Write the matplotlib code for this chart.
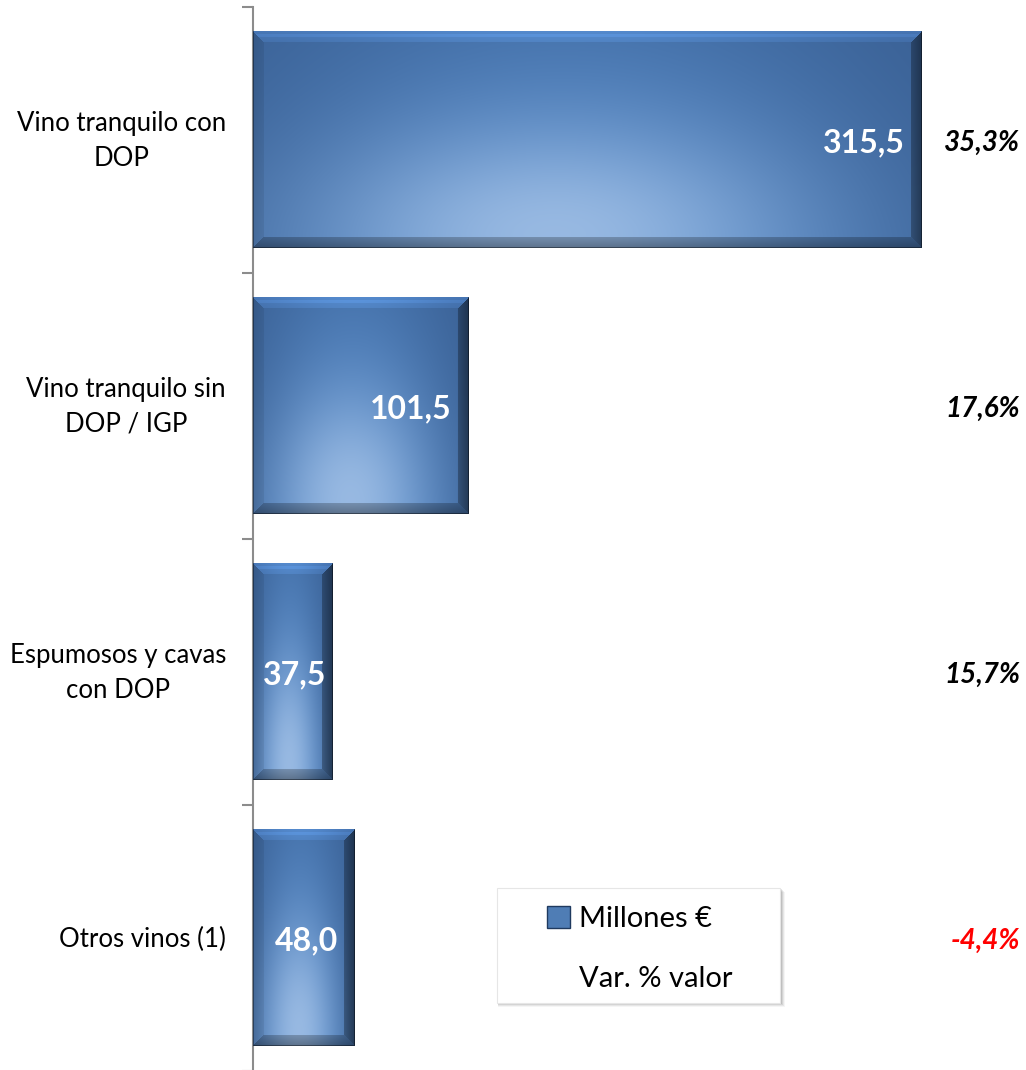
import numpy as np
import matplotlib
matplotlib.use("Agg")
import matplotlib.pyplot as plt
from matplotlib.patches import Rectangle, Patch
from matplotlib.lines import Line2D
from matplotlib.transforms import blended_transform_factory

# ---------------- data ----------------
categories = ["Vino tranquilo con\nDOP", "Vino tranquilo sin\nDOP / IGP",
              "Espumosos y cavas\ncon DOP", "Otros vinos (1)"]
millones = [315.5, 101.5, 37.5, 48.0]
var_pct = [35.3, 17.6, 15.7, -4.4]
legend_labels = ["Millones €", "Var. % valor"]

FONT = ["Lato", "DejaVu Sans"]
plt.rcParams["font.family"] = FONT

W_PX, H_PX, DPI = 1026, 1070, 100
fig = plt.figure(figsize=(W_PX / DPI, H_PX / DPI), dpi=DPI)
fig.patch.set_facecolor("white")

ax_left, ax_top, ax_bot = 253, 7, 1071
px_per_unit = 2.12
ax = fig.add_axes([ax_left / W_PX, (H_PX - ax_bot) / H_PX,
                   (W_PX - ax_left) / W_PX, (ax_bot - ax_top) / H_PX])
ax.set_xlim(0, (W_PX - ax_left) / px_per_unit)
ax.set_ylim(len(categories) - 0.5, -0.5)
ax.patch.set_alpha(0)

bar_h = 0.815
ypos = np.arange(len(categories))
bars = ax.barh(ypos, millones, height=bar_h, color="#4a78b0", edgecolor="none", zorder=2)

band_px = (ax_bot - ax_top) / len(categories)


def bar_image(wpx, hpx, b=11):
    W = max(int(round(wpx)), 4)
    H = max(int(round(hpx)), 4)
    yy, xx = np.mgrid[0:H, 0:W].astype(float) + 0.5
    base = np.array([54, 90, 140], float)
    mid = np.array([86, 141, 206], float)
    light = np.array([166, 195, 231], float)
    g1 = np.exp(-((xx - 0.47 * W) / (0.5 * W)) ** 2) * (0.5 + 0.5 * yy / H)
    g2 = np.exp(-((xx - 0.45 * W) / (0.33 * W)) ** 2 - ((yy - 0.93 * H) / (0.48 * H)) ** 2)
    img = base[None, None, :] + g1[..., None] * (mid - base)
    img = img + 0.82 * g2[..., None] * (light - img)
    # bevel frame
    dt, db, dl, dr = yy, H - yy, xx, W - xx
    d = np.stack([dt, db, dl, dr])
    idx = np.argmin(d, axis=0)
    m = np.min(d, axis=0)
    inb = m < b
    factors = np.array([1.18, 0.62, 0.88, 0.52])
    f = factors[idx]
    fade = 1 - 0.4 * (m / b)
    ff = np.where(inb, 1 + (f - 1) * fade, 1.0)
    img = img * ff[..., None]
    # thin light line inside top bevel
    topline = (dt > 3) & (dt < 6) & (dt <= dl) & (dt <= dr)
    img[topline] = img[topline] * 1.08
    # thin dark outline
    edge = (db < 1.5) | (dr < 1.5) | (dl < 1.2)
    img[edge] = img[edge] * 0.6
    img = np.clip(img, 0, 255) / 255.0
    return img


for rect, v, y in zip(bars, millones, ypos):
    im = bar_image(v * px_per_unit, bar_h * band_px)
    ax.imshow(im, extent=(0, v, y + bar_h / 2, y - bar_h / 2), aspect="auto",
              interpolation="bilinear", zorder=3, clip_path=rect, clip_on=True)

# value labels
for v, y in zip(millones, ypos):
    txt = f"{v:.1f}".replace(".", ",")
    if v * px_per_unit > 100:
        ax.annotate(txt, xy=(v, y), xytext=(-17, -3), textcoords="offset pixels",
                    ha="right", va="center", color="white", fontsize=23,
                    fontweight="bold", zorder=5)
    else:
        ax.annotate(txt, xy=(v / 2, y), xytext=(2, -3), textcoords="offset pixels",
                    ha="center", va="center", color="white", fontsize=23,
                    fontweight="bold", zorder=5)

# percentage labels
tr = blended_transform_factory(fig.transFigure, ax.transData)
for p, y in zip(var_pct, ypos):
    txt = f"{p:.1f}%".replace(".", ",")
    ax.annotate(txt, xy=(1020 / W_PX, y), xycoords=tr, xytext=(0, -3),
                textcoords="offset pixels", ha="right", va="center",
                fontsize=20, fontweight="bold", fontstyle="italic",
                color="#ff0000" if p < 0 else "black", annotation_clip=False)

# category labels
for c, y in zip(categories, ypos):
    ax.annotate(c, xy=(226 / W_PX, y), xycoords=tr, xytext=(0, -1),
                textcoords="offset pixels", ha="right", va="center",
                multialignment="center", fontsize=18.5, linespacing=1.45,
                color="black", annotation_clip=False)

# axes styling
for s in ["top", "right", "bottom"]:
    ax.spines[s].set_visible(False)
ax.spines["left"].set_color("#8c8c8c")
ax.spines["left"].set_linewidth(1.5)
ax.set_xticks([])
ax.set_yticks(np.arange(-0.5, len(categories) + 0.5, 1.0))
ax.set_yticklabels([])
ax.tick_params(axis="y", length=8, width=1.5, color="#8c8c8c", direction="out")

# legend box with shadow
lx0, ly0, lx1, ly1 = 497, 888, 780, 1003
for i, a in enumerate([0.04, 0.06, 0.08, 0.10]):
    off = 4 - i
    fig.patches.append(Rectangle(((lx0 + 1) / W_PX, (H_PX - ly1 - off) / H_PX),
                                 (lx1 - lx0 + off) / W_PX, (ly1 - ly0) / H_PX,
                                 transform=fig.transFigure, facecolor="black",
                                 edgecolor="none", alpha=a, zorder=8))
fig.patches.append(Rectangle((lx0 / W_PX, (H_PX - ly1) / H_PX),
                             (lx1 - lx0) / W_PX, (ly1 - ly0) / H_PX,
                             transform=fig.transFigure, facecolor="white",
                             edgecolor="#e6e6e6", linewidth=0.8, zorder=9))

handles = [Patch(facecolor="#4f7db5", edgecolor="#1f3a5f", linewidth=1.0),
           Line2D([], [], linestyle="none", marker=None)]
leg = fig.legend(handles, legend_labels, loc="upper left",
                 bbox_to_anchor=(547 / W_PX, 1 - 906 / H_PX), frameon=False,
                 fontsize=21, handlelength=0.8, handleheight=0.8,
                 handletextpad=0.3, labelspacing=1.15, borderpad=0,
                 borderaxespad=0)
leg.set_zorder(10)

fig.savefig("out.png", dpi=DPI, facecolor="white")
